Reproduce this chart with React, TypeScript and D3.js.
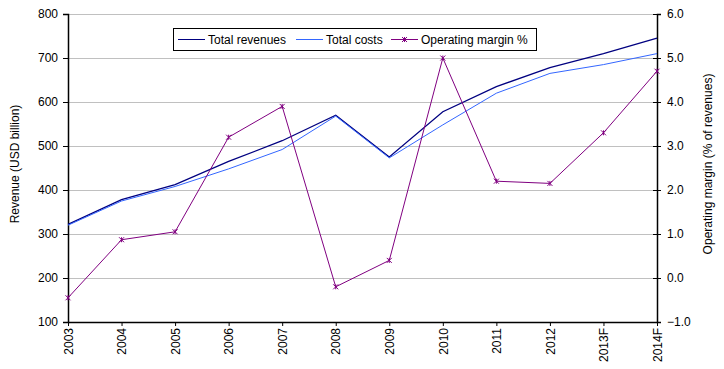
import React, { useRef, useEffect } from 'react';
import * as d3 from 'd3';

const years = ['2003', '2004', '2005', '2006', '2007', '2008', '2009', '2010', '2011', '2012', '2013F', '2014F'];
const totalRevenues = [322, 378, 412, 465, 512, 570, 475, 578, 635, 678, 710, 745];
const totalCosts = [320, 375, 408, 448, 492, 568, 473, 548, 620, 665, 685, 710];
const operatingMargin = [-0.45, 0.87, 1.05, 3.2, 3.9, -0.2, 0.4, 5.0, 2.2, 2.15, 3.3, 4.7];
const leftTicks = [100, 200, 300, 400, 500, 600, 700, 800];
const rightTicks = [-1, 0, 1, 2, 3, 4, 5, 6];

const FONT = '"Liberation Sans", Arial, sans-serif';

export default function App() {
  const svgRef = useRef<SVGSVGElement>(null);

  useEffect(() => {
    if (!svgRef.current) return;
    const svg = d3.select(svgRef.current);
    svg.selectAll('*').remove();

    const margin = { top: 14, left: 68, right: 657, bottom: 322 };

    const x = d3.scalePoint<string>().domain(years).range([margin.left, margin.right]);
    const yL = d3.scaleLinear().domain([100, 800]).range([margin.bottom, margin.top]);
    const yR = d3.scaleLinear().domain([-1, 6]).range([margin.bottom, margin.top]);

    // gridlines
    svg.append('g')
      .selectAll('line')
      .data(leftTicks.slice(1))
      .join('line')
      .attr('x1', margin.left).attr('x2', margin.right)
      .attr('y1', d => yL(d)).attr('y2', d => yL(d))
      .attr('stroke', '#c0c0c0').attr('stroke-width', 1).attr('shape-rendering', 'crispEdges');

    // left axis
    const left = svg.append('g').attr('transform', `translate(${margin.left},0)`)
      .call(d3.axisLeft(yL).tickValues(leftTicks).tickSize(5).tickPadding(5).tickFormat(d3.format('d')));
    left.select('.domain').attr('stroke', '#000').attr('stroke-width', 1.5);
    left.selectAll('line').attr('stroke', '#000');
    left.selectAll('text').attr('font-family', FONT).attr('font-size', 12).attr('fill', '#000');

    // right axis
    const right = svg.append('g').attr('transform', `translate(${margin.right},0)`)
      .call(d3.axisRight(yR).tickValues(rightTicks).tickSize(4).tickPadding(6).tickFormat(d3.format('.1f')));
    right.select('.domain').attr('stroke', '#000').attr('stroke-width', 1.5);
    right.selectAll('.tick line').attr('stroke', '#000').attr('x1', -4);
    right.selectAll('text').attr('font-family', FONT).attr('font-size', 12).attr('fill', '#000');

    // bottom axis
    const bottom = svg.append('g').attr('transform', `translate(0,${margin.bottom})`)
      .call(d3.axisBottom(x).tickSize(4).tickSizeOuter(0));
    bottom.select('.domain').attr('stroke', '#000').attr('stroke-width', 1.5);
    bottom.selectAll('line').attr('stroke', '#000');
    bottom.selectAll('text')
      .attr('font-family', FONT).attr('font-size', 12).attr('fill', '#000')
      .attr('transform', 'rotate(-90)')
      .attr('text-anchor', 'end')
      .attr('x', -6).attr('y', 0).attr('dy', '0.35em');

    // axis titles
    svg.append('text')
      .attr('transform', 'rotate(-90)')
      .attr('x', -164).attr('y', 19)
      .attr('text-anchor', 'middle')
      .attr('font-family', FONT).attr('font-size', 12).attr('fill', '#000')
      .text('Revenue (USD billion)');
    svg.append('text')
      .attr('transform', 'rotate(-90)')
      .attr('x', -164).attr('y', 712)
      .attr('text-anchor', 'middle')
      .attr('font-family', FONT).attr('font-size', 12).attr('fill', '#000')
      .text('Operating margin (% of revenues)');

    const lineL = d3.line<number>().x((_, i) => x(years[i])!).y(d => yL(d));
    const lineR = d3.line<number>().x((_, i) => x(years[i])!).y(d => yR(d));

    svg.append('path').datum(totalRevenues).attr('d', lineL)
      .attr('fill', 'none').attr('stroke', '#000080').attr('stroke-width', 1.3);
    svg.append('path').datum(totalCosts).attr('d', lineL)
      .attr('fill', 'none').attr('stroke', '#3366ff').attr('stroke-width', 1);
    svg.append('path').datum(operatingMargin).attr('d', lineR)
      .attr('fill', 'none').attr('stroke', '#800080').attr('stroke-width', 1);

    const star = (g: d3.Selection<SVGGElement, unknown, null, undefined>, cx: number, cy: number) => {
      const s = 2.5;
      g.append('path')
        .attr('d', `M${cx - s},${cy - s}L${cx + s},${cy + s}M${cx - s},${cy + s}L${cx + s},${cy - s}M${cx},${cy - s}L${cx},${cy + s}`)
        .attr('stroke', '#800080').attr('stroke-width', 1).attr('fill', 'none');
    };
    const markers = svg.append('g');
    operatingMargin.forEach((d, i) => star(markers, x(years[i])!, yR(d)));

    // legend
    const lg = svg.append('g');
    lg.append('rect').attr('x', 173.5).attr('y', 28.5).attr('width', 363).attr('height', 22)
      .attr('fill', '#fff').attr('stroke', '#000').attr('stroke-width', 1);
    const items = [
      { label: 'Total revenues', color: '#000080', x0: 178, marker: false },
      { label: 'Total costs', color: '#3366ff', x0: 296, marker: false },
      { label: 'Operating margin %', color: '#800080', x0: 391, marker: true },
    ];
    items.forEach(it => {
      lg.append('line').attr('x1', it.x0).attr('x2', it.x0 + 27).attr('y1', 39.5).attr('y2', 39.5)
        .attr('stroke', it.color).attr('stroke-width', 1);
      if (it.marker) star(lg, it.x0 + 13.5, 39.5);
      lg.append('text').attr('x', it.x0 + 30).attr('y', 44)
        .attr('font-family', FONT).attr('font-size', 12).attr('fill', '#000')
        .text(it.label);
    });
  }, []);

  return (
    <div style={{ position: 'absolute', left: 0, top: 0, width: 724, height: 369, background: '#fff' }}>
      <svg ref={svgRef} width={724} height={369} style={{ display: 'block' }} />
    </div>
  );
}
